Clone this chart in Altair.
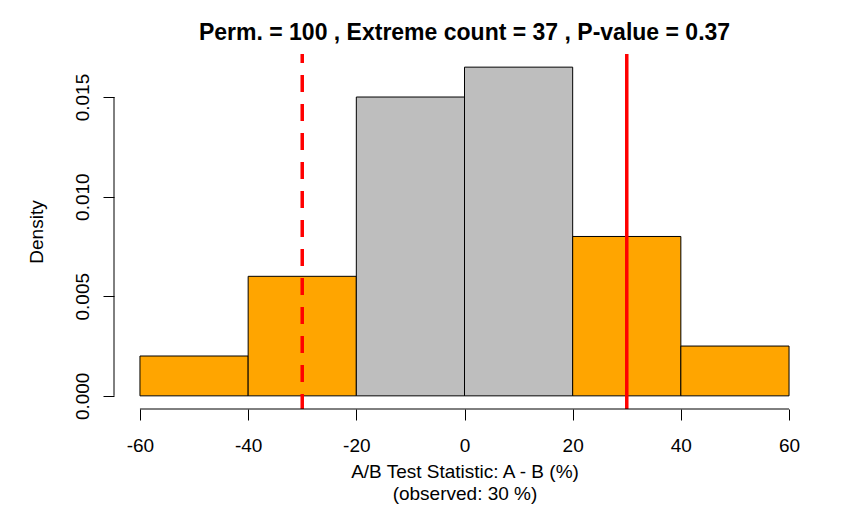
import altair as alt
import pandas as pd

# ---- data ----
bin_starts = [-60, -40, -20, 0, 20, 40]
bin_ends = [-40, -20, 0, 20, 40, 60]
densities = [0.002, 0.006, 0.015, 0.0165, 0.008, 0.0025]
bar_fills = ["#FFA500", "#FFA500", "#BEBEBE", "#BEBEBE", "#FFA500", "#FFA500"]
observed = 30
x_ticks = [-60, -40, -20, 0, 20, 40, 60]
y_ticks = [0.0, 0.005, 0.010, 0.015]
title_text = "Perm. = 100 , Extreme count = 37 , P-value = 0.37"
x_title = ["A/B Test Statistic: A - B (%)", "(observed: 30 %)"]
y_title = "Density"

FONT = "Liberation Sans, Arial, sans-serif"
W, H = 701, 355
ymax = max(densities)
xpad = 0.04 * (max(x_ticks) - min(x_ticks))
ypad = 0.04 * ymax
xscale = alt.Scale(domain=[min(x_ticks) - xpad, max(x_ticks) + xpad], nice=False, zero=False)
yscale = alt.Scale(domain=[-ypad, ymax + ypad], nice=False, zero=False)

bars_df = pd.DataFrame({"start": bin_starts, "end": bin_ends, "density": densities, "fill": bar_fills})
lines_df = pd.DataFrame({"x": [-observed, observed], "kind": ["neg", "pos"]})

x_axis = alt.Axis(
    values=x_ticks, domain=False, grid=False, tickSize=11, tickColor="#000", tickWidth=1,
    labelExpr="toString(datum.value)",
    labelFont=FONT, labelFontSize=19, labelColor="#000", labelPadding=25,
    labelBaseline="middle", labelFlush=False, labelOverlap=False,
    title=x_title, titleFont=FONT, titleFontSize=19, titleFontWeight="normal", titleColor="#000",
    titleBaseline="top", titleLineHeight=22, titleY=53, titleX=W / 2, titleAnchor="middle",
)
y_axis = alt.Axis(
    values=y_ticks, format=".3f", domain=False, grid=False, tickSize=11, tickColor="#000", tickWidth=1,
    labelFont=FONT, labelFontSize=19, labelColor="#000", labelPadding=21,
    labelAngle=270, labelAlign="center", labelBaseline="middle", labelFlush=False, labelOverlap=False,
    title=y_title, titleFont=FONT, titleFontSize=19, titleFontWeight="normal", titleColor="#000",
    titleAngle=270, titleBaseline="middle", titleX=-78, titleY=H / 2, titleAlign="center",
)

bars = alt.Chart(bars_df).mark_rect(stroke="#000", strokeWidth=1).encode(
    x=alt.X("start:Q", scale=xscale, axis=x_axis),
    x2="end:Q",
    y=alt.Y("density:Q", scale=yscale, axis=y_axis),
    y2=alt.datum(0),
    fill=alt.Fill("fill:N", scale=None),
)

dashed = alt.Chart(lines_df[lines_df.kind == "neg"]).mark_rule(
    color="#FF0000", strokeWidth=3.5, strokeDash=[17, 12], strokeDashOffset=8
).encode(x=alt.X("x:Q", scale=xscale))

solid = alt.Chart(lines_df[lines_df.kind == "pos"]).mark_rule(
    color="#FF0000", strokeWidth=3.5
).encode(x=alt.X("x:Q", scale=xscale))

xline_df = pd.DataFrame({"a": [min(x_ticks)], "b": [max(x_ticks)]})
yline_df = pd.DataFrame({"a": [min(y_ticks)], "b": [max(y_ticks)]})

x_axis_line = alt.Chart(xline_df).mark_rule(color="#000", strokeWidth=1).encode(
    x=alt.X("a:Q", scale=xscale), x2="b:Q", y=alt.value(H)
)
y_axis_line = alt.Chart(yline_df).mark_rule(color="#000", strokeWidth=1).encode(
    y=alt.Y("a:Q", scale=yscale), y2="b:Q", x=alt.value(0)
)

chart = alt.layer(bars, dashed, solid, x_axis_line, y_axis_line).properties(
    width=W,
    height=H,
    background="white",
    title=alt.TitleParams(
        text=title_text, font=FONT, fontSize=23, fontWeight="bold", color="#000",
        anchor="middle", frame="group", baseline="bottom", offset=9, dy=25,
    ),
    autosize=alt.AutoSizeParams(type="none"),
    padding={"left": 106, "top": 46, "right": 20, "bottom": 100},
).configure_view(strokeWidth=0, stroke="transparent")

chart.save("out.html", embed_options={"renderer": "svg", "actions": False})
